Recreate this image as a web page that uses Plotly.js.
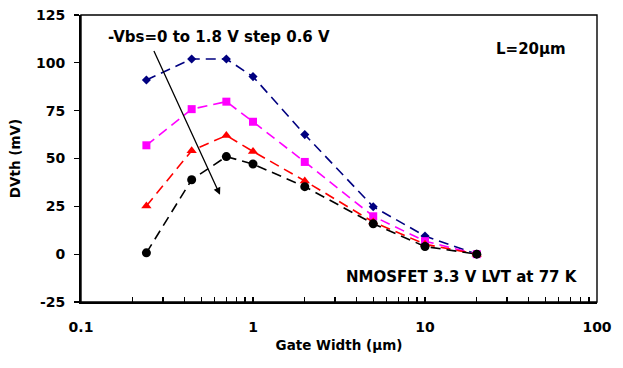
<!DOCTYPE html>
<html>
<head>
<meta charset="utf-8">
<script src="https://cdn.plot.ly/plotly-3.0.1.min.js"></script>
<style>html,body{margin:0;padding:0;background:#fff;}#chart{width:623px;height:368px;}</style>
</head>
<body>
<div id="chart"></div>
<script>
// Data
const gateWidth = [0.24, 0.44, 0.7, 1, 2, 5, 10, 20];
const vbs0 = [91.0, 102.0, 102.0, 92.8, 62.5, 24.8, 9.5, 0];
const vbs06 = [56.9, 75.8, 79.7, 69.2, 48.2, 19.8, 6.8, 0];
const vbs12 = [25.2, 54.1, 62.0, 53.7, 38.3, 16.8, 5.2, 0];
const vbs18 = [0.7, 38.9, 51.0, 47.1, 35.3, 15.9, 4.0, 0];
const xTickVals = [0.1,0.2,0.3,0.4,0.5,0.6,0.7,0.8,0.9,1,2,3,4,5,6,7,8,9,10,20,30,40,50,60,70,80,90,100];
const xTickText = ['0.1','','','','','','','','','1','','','','','','','','','10','','','','','','','','','100'];
const yTickVals = [-25, 0, 25, 50, 75, 100, 125];
const yTickText = ['-25', '0', '25', '50', '75', '100', '125'];

const FAM = 'DejaVu Sans';
const txt = (size) => ({family: FAM, size: size, color: '#000', weight: 'bold'});
const dash = '10px,6px';

function series(y, color, symbol, size) {
  return {x: gateWidth, y: y, type: 'scatter', mode: 'lines+markers',
    line: {color: color, width: 1.6, dash: dash},
    marker: {color: color, symbol: symbol, size: size},
    showlegend: false, cliponaxis: false};
}

const data = [
  series(vbs0, '#000080', 'diamond', 7),
  series(vbs06, '#FF00FF', 'square', 8),
  series(vbs12, '#FF0000', 'triangle-up', 9),
  series(vbs18, '#000000', 'circle', 9)
];

const layout = {
  width: 623, height: 368,
  margin: {l: 81, r: 26, t: 15, b: 66},
  paper_bgcolor: '#fff', plot_bgcolor: '#fff',
  font: txt(14),
  xaxis: {type: 'log', range: [-1, 2], tickvals: xTickVals, ticktext: xTickText,
    ticks: 'inside', ticklen: 5, tickwidth: 1.3, tickcolor: '#000',
    showline: true, linecolor: '#000', linewidth: 2, showgrid: false, zeroline: false,
    ticklabelstandoff: 11,
    tickfont: txt(14),
    title: {text: 'Gate Width (μm)', standoff: 7, font: txt(13.5)}},
  yaxis: {range: [-25, 125], tickvals: yTickVals, ticktext: yTickText,
    ticks: 'outside', ticklen: 5, tickwidth: 1.3, tickcolor: '#000',
    showline: true, linecolor: '#000', linewidth: 2, showgrid: false, zeroline: false,
    ticklabelstandoff: 6,
    tickfont: txt(14),
    title: {text: 'DVth (mV)', standoff: 12, font: txt(13.5)}},
  shapes: [{type: 'rect', xref: 'paper', yref: 'paper', x0: 0, x1: 1, y0: 0, y1: 1,
    line: {color: '#000', width: 1.4}}],
  annotations: [
    {x: Math.log10(0.643), y: 31, ax: Math.log10(0.263), ay: 107, xref: 'x', yref: 'y', axref: 'x', ayref: 'y',
     showarrow: true, arrowhead: 2, arrowsize: 1.1, arrowwidth: 1.3, arrowcolor: '#000', text: ''},
    {x: 0.267, y: 0.923, xref: 'paper', yref: 'paper', xanchor: 'center', yanchor: 'middle', showarrow: false,
     text: '-Vbs=0 to 1.8 V step 0.6 V', font: txt(15)},
    {x: 0.944, y: 0.88, xref: 'paper', yref: 'paper', xanchor: 'right', yanchor: 'middle', showarrow: false,
     text: 'L=20μm', font: txt(15)},
    {x: 0.967, y: 0.087, xref: 'paper', yref: 'paper', xanchor: 'right', yanchor: 'middle', showarrow: false,
     text: 'NMOSFET 3.3 V LVT at 77 K', font: txt(15)}
  ]
};

Plotly.newPlot('chart', data, layout, {staticPlot: true, displayModeBar: false});
</script>
</body>
</html>
